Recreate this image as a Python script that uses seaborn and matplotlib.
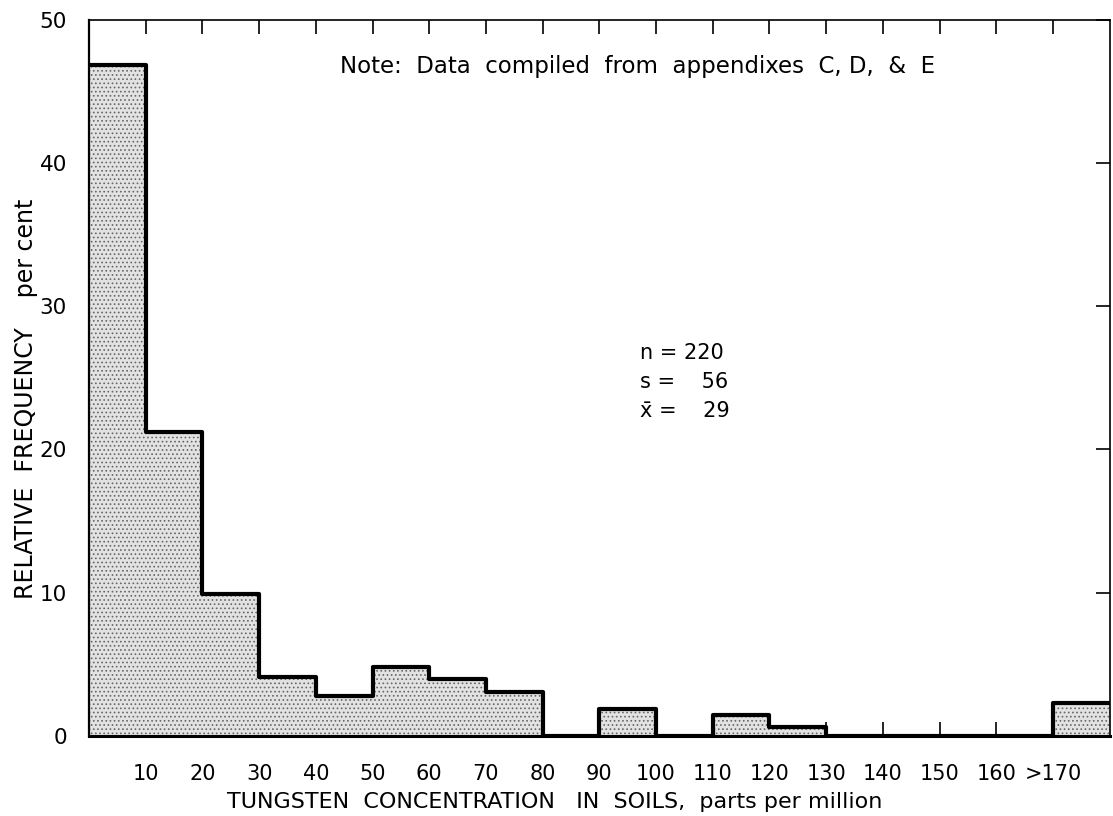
import numpy as np
import pandas as pd
import seaborn as sns
import matplotlib
matplotlib.use("Agg")
import matplotlib.pyplot as plt

# ---- data ----
bin_edges = list(range(0, 190, 10))          # 0,10,...,180
rel_freq = [46.8, 21.2, 9.9, 4.1, 2.8, 4.8, 4.0, 3.1, 0.0,
            1.9, 0.0, 1.5, 0.6, 0.0, 0.0, 0.0, 0.0, 2.3]   # per cent
tick_values = [10, 20, 30, 40, 50, 60, 70, 80, 90, 100, 110, 120, 130, 140, 150, 160, 170]
tick_labels = ["10", "20", "30", "40", "50", "60", "70", "80", "90", "100",
               "110", "120", "130", "140", "150", "160", ">170"]
y_ticks = [0, 10, 20, 30, 40, 50]
note_text = "Note:  Data  compiled  from  appendixes  C, D,  &  E"
stats_lines = ["n = 220", "s =    56", "x\u0304 =    29"]

centers = [e + 5 for e in bin_edges[:-1]]
df = pd.DataFrame({"conc": centers, "pct": rel_freq})

sns.set_theme(style="white")
plt.rcParams["font.family"] = ["DejaVu Sans"]
plt.rcParams["hatch.linewidth"] = 0.7

fig = plt.figure(figsize=(11.13, 8.16), dpi=100)
ax = fig.add_axes([0.080, 0.098, 0.917, 0.878])

# stippled fill
sns.histplot(data=df, x="conc", weights="pct", bins=bin_edges, stat="count",
             element="bars", color="#e2e2e2", alpha=1, edgecolor="#666666",
             linewidth=0, hatch="....", ax=ax)
# heavy outline
sns.histplot(data=df, x="conc", weights="pct", bins=bin_edges, stat="count",
             element="step", fill=False, color="black", linewidth=3.0, ax=ax)

ax.set_xlim(0, 180)
ax.set_ylim(0, 50)
ax.set_xticks(tick_values)
ax.set_xticklabels(tick_labels)
ax.set_yticks(y_ticks)
ax.set_yticklabels([str(v) for v in y_ticks])

for side in ["top", "right"]:
    ax.spines[side].set_linewidth(1.2)
    ax.spines[side].set_color("black")
ax.spines["left"].set_linewidth(1.6)
ax.spines["left"].set_color("black")
ax.spines["bottom"].set_linewidth(2.2)
ax.spines["bottom"].set_color("black")

ax.tick_params(axis="x", direction="in", top=True, bottom=True, length=10,
               width=1.2, color="black", labelsize=15, pad=20, labelcolor="black")
ax.tick_params(axis="y", direction="in", left=False, right=True, length=10,
               width=1.2, color="black", labelsize=15.5, pad=16, labelcolor="black")

ax.set_xlabel("TUNGSTEN  CONCENTRATION   IN  SOILS,  parts per million",
              fontsize=16, color="black")
ax.xaxis.set_label_coords(0.456, -0.078)
ax.set_ylabel("RELATIVE  FREQUENCY    per cent", fontsize=17, color="black")
ax.yaxis.set_label_coords(-0.050, 0.47)

ax.text(0.537, 0.934, note_text, transform=ax.transAxes, ha="center",
        va="center", fontsize=16.5, color="black")
for i, line in enumerate(stats_lines):
    ax.text(0.540, 0.534 - i * 0.040, line, transform=ax.transAxes,
            ha="left", va="center", fontsize=15, color="black")

fig.savefig("out.png", dpi=100, facecolor="white")
